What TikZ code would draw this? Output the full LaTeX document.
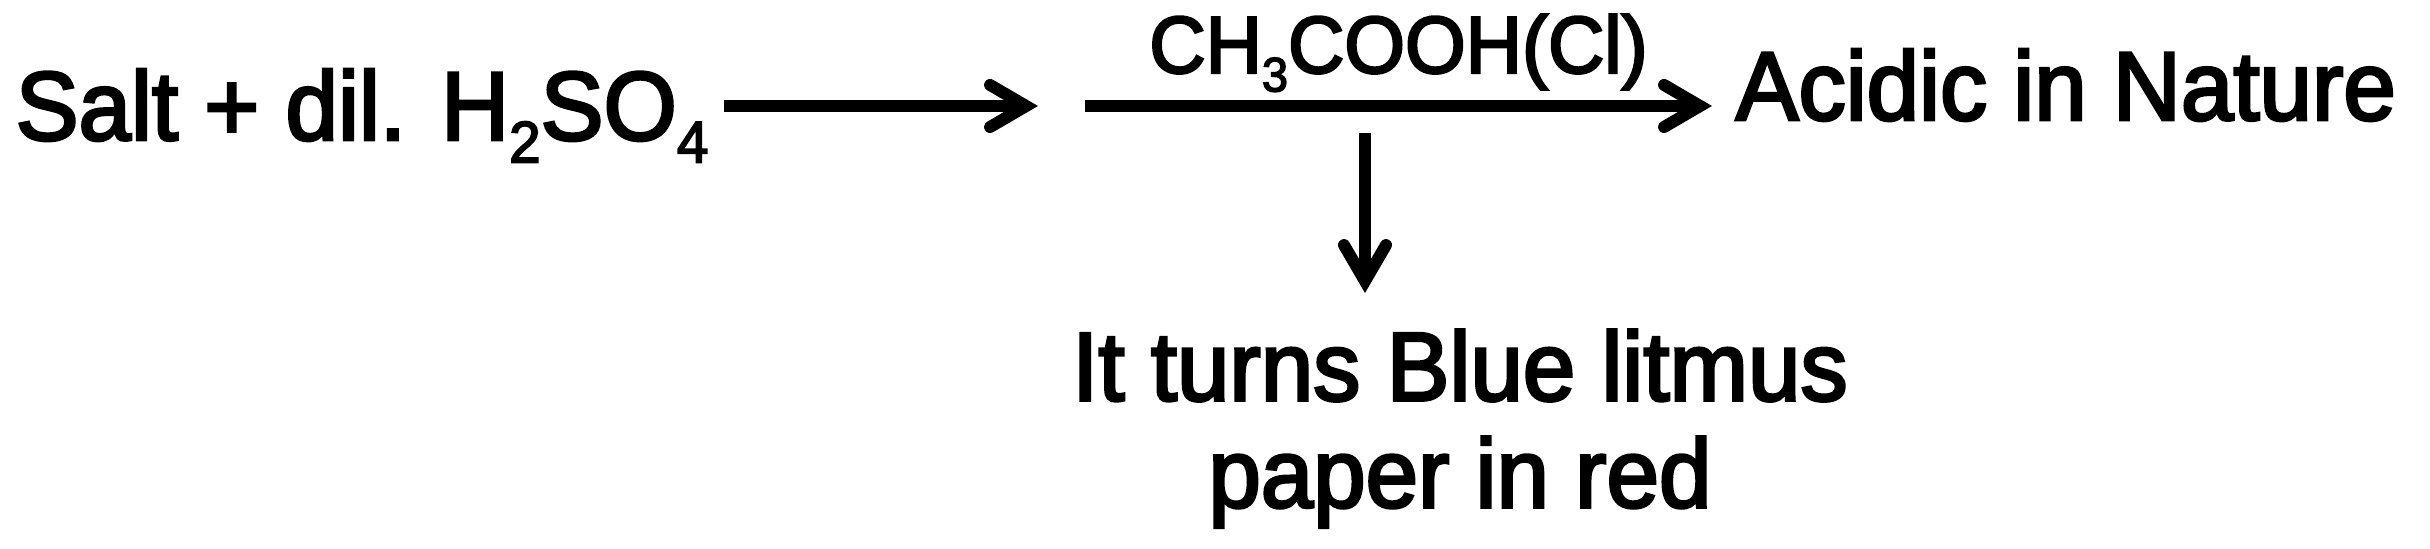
\documentclass[tikz,border=0pt]{standalone}
\usepackage{fontspec}
\newfontfamily\diagfont[FakeBold=3, FakeStretch=0.965]{Liberation Sans}
\usetikzlibrary{arrows.meta}

\newcommand{\chsub}[1]{\raisebox{-0.23em}{\scalebox{0.6}{#1}}}

\begin{document}
\begin{tikzpicture}[x=0.1mm, y=-0.1mm,
    txt/.style={inner sep=0, font=\diagfont\fontsize{27.8pt}{30.4pt}\selectfont},
    arr/.style={line width=1.2mm, -{Straight Barb[length=3.6mm, width=4.2mm, line cap=round]}}]

    \useasboundingbox (0,0) rectangle (2430,549);

    \node[txt, anchor=base west] (salt) at (15,140) {Salt + dil. H\chsub{2}SO\chsub{4}};
    \node[txt, anchor=base west] (acid) at (1735,120) {Acidic in Nature};
    \node[txt, anchor=north, align=center] (litmus) at (1460,329)
        {It turns Blue litmus\\paper in red};

    \coordinate (gap) at (1062,106);
    \coordinate (split) at (1365,106);

    \draw[arr, shorten <=1.5mm, shorten >=2.4mm] (salt.east |- gap) -- (gap);
    \draw[arr, shorten <=2.3mm, shorten >=2.3mm] (gap) -- (acid.west |- gap)
        node[midway, above=0.8mm, inner sep=0, font=\diagfont\fontsize{23pt}{26pt}\selectfont]
        (reagent) {CH\chsub{3}COOH(Cl)};
    \draw[arr, shorten <=2.7mm, shorten >=3.6mm] (split) -- (split |- litmus.north);

\end{tikzpicture}
\end{document}
